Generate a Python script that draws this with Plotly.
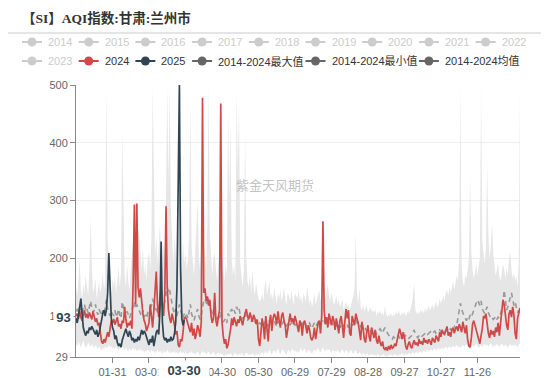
import plotly.graph_objects as go
import pandas as pd

# ---------------- data ----------------
DAYS = [d.strftime("%m-%d") for d in pd.date_range("2024-01-01", "2024-12-31")]

TITLE = "【SI】AQI指数:甘肃:兰州市"
WATERMARK = "紫金天风期货"
LEGEND_ROW1 = ["2014", "2015", "2016", "2017", "2018", "2019", "2020", "2021", "2022"]
LEGEND_ROW2 = ["2023", "2024", "2025", "2014-2024最大值", "2014-2024最小值", "2014-2024均值"]

Y_TICKS = [29, 100, 200, 300, 400, 500]
X_TICK_DAYS = ["01-31", "03-01", "03-31", "04-30", "05-30", "06-29", "07-29", "08-28", "09-27", "10-27", "11-26"]
POINTER_X = "03-30"
POINTER_Y = 93

aqi_2024 = [
    100, 104, 95, 108, 98, 92, 102, 110, 97, 104, 96, 106, 100, 94, 108, 98, 90, 96, 84, 88, 70, 56, 52, 60, 54, 66, 72, 64, 82, 92, 88,
    95, 85, 90, 98, 82, 86, 78, 92, 88, 116, 94, 80, 88, 84, 92, 78, 160, 293, 120, 295, 150, 132, 148, 118, 104, 92, 86, 74, 82,
    88, 120, 96, 80, 110, 140, 177, 120, 98, 130, 150, 118, 100, 140, 290, 150, 110, 96, 88, 104, 96, 84, 68, 74, 50, 46, 60, 56, 72, 96, 98,
    94, 86, 80, 72, 88, 66, 78, 60, 70, 84, 76, 64, 90, 478, 140, 148, 126, 134, 118, 128, 100, 88, 96, 140, 92, 82, 98, 110, 468, 90,
    66, 52, 60, 44, 50, 62, 76, 96, 84, 98, 90, 82, 94, 88, 100, 92, 84, 96, 104, 112, 100, 94, 106, 98, 90, 102, 96, 86, 94, 60, 48,
    70, 96, 84, 60, 100, 78, 56, 90, 102, 74, 96, 104, 98, 86, 108, 92, 80, 100, 106, 92, 84, 62, 78, 98, 104, 90, 96, 86, 100, 92,
    80, 72, 92, 86, 66, 88, 92, 78, 70, 84, 76, 62, 58, 64, 80, 60, 76, 88, 92, 70, 100, 264, 110, 86, 98, 80, 104, 96, 84, 100, 92,
    76, 96, 84, 70, 92, 100, 82, 62, 90, 112, 96, 110, 70, 66, 100, 92, 84, 104, 96, 88, 74, 58, 90, 80, 60, 54, 72, 84, 64, 56, 80,
    70, 62, 76, 58, 52, 66, 54, 48, 56, 44, 42, 46, 40, 48, 42, 50, 44, 46, 52, 48, 58, 66, 78, 70, 60, 72, 64, 48, 42, 50,
    56, 48, 44, 52, 58, 50, 54, 48, 60, 52, 56, 50, 62, 54, 58, 52, 60, 56, 50, 62, 58, 54, 66, 60, 56, 72, 64, 76, 70, 68, 74,
    82, 66, 72, 64, 76, 80, 70, 78, 82, 74, 86, 80, 72, 90, 76, 70, 84, 58, 48, 46, 62, 86, 92, 84, 80, 70, 60, 52, 66, 78,
    100, 96, 104, 82, 70, 62, 76, 68, 74, 64, 80, 72, 88, 66, 92, 106, 128, 120, 96, 84, 76, 104, 110, 98, 116, 102, 70, 60, 96, 104, 114,
]

aqi_2025 = [
    96, 88, 100, 118, 130, 104, 80, 72, 66, 74,
    70, 80, 76, 82, 78, 74, 68, 76, 64, 70,
    82, 96, 104, 110, 100, 112, 140, 209, 150, 96,
    80, 74, 60, 66, 54, 48, 52, 46, 58, 66,
    72, 78, 70, 64, 74, 68, 58, 62, 54, 60,
    56, 64, 58, 70, 76, 68, 74, 70, 62, 56,
    50, 60, 54, 66, 48, 60, 72, 76, 68, 110,
    229, 90, 64, 58, 62, 54, 60, 56, 64, 58,
    60, 70, 90, 150, 320, 500, 180, 96, 84, 93,
]

aqi_max = [
    150, 135, 160, 200, 145, 130, 155, 140, 170, 150, 135, 180, 270, 190, 140, 150, 165, 130, 145, 160, 140, 150, 175, 145, 160, 500, 230, 180, 150, 140, 165,
    150, 170, 140, 160, 185, 150, 175, 420, 260, 170, 150, 190, 160, 145, 180, 200, 230, 300, 210, 310, 250, 240, 200, 180, 220, 170, 190, 160, 200,
    210, 180, 230, 500, 380, 200, 240, 190, 220, 260, 210, 180, 230, 200, 300, 500, 330, 500, 280, 220, 190, 240, 210, 180, 260, 220, 200, 170, 230, 190, 210,
    180, 200, 240, 480, 220, 190, 170, 210, 250, 300, 200, 180, 220, 490, 230, 200, 180, 260, 500, 240, 190, 170, 200, 210, 180, 160, 190, 220, 475, 200,
    180, 160, 190, 170, 463, 300, 440, 200, 170, 190, 160, 492, 350, 470, 190, 170, 150, 180, 420, 200, 160, 150, 170, 140, 180, 150, 135, 157, 140, 130, 125,
    130, 140, 125, 150, 165, 135, 145, 160, 130, 140, 125, 150, 135, 120, 140, 130, 145, 125, 135, 150, 130, 120, 140, 135, 125, 145, 130, 120, 140, 135,
    130, 145, 125, 135, 120, 140, 130, 125, 150, 135, 120, 130, 115, 125, 140, 120, 130, 135, 145, 125, 140, 270, 150, 130, 140, 155, 135, 125, 140, 130, 120,
    125, 135, 120, 130, 115, 125, 130, 110, 120, 125, 115, 120, 110, 118, 125, 135, 150, 246, 140, 120, 150, 115, 110, 120, 108, 112, 118, 105, 110, 115, 108,
    110, 105, 112, 100, 108, 104, 110, 102, 106, 100, 118, 104, 98, 102, 100, 106, 98, 104, 100, 108, 102, 110, 104, 100, 106, 102, 108, 100, 104, 110,
    104, 112, 120, 135, 157, 110, 104, 108, 102, 112, 106, 110, 104, 115, 108, 112, 118, 110, 115, 120, 112, 118, 125, 115, 120, 130, 122, 128, 135, 125, 140,
    145, 135, 150, 140, 149, 160, 145, 155, 170, 160, 200, 500, 190, 160, 150, 170, 165, 180, 200, 341, 210, 180, 165, 175, 190, 170, 185, 200, 500, 230,
    210, 190, 220, 366, 240, 200, 220, 262, 210, 190, 170, 180, 189, 170, 160, 175, 190, 180, 165, 185, 170, 200, 210, 180, 165, 175, 160, 170, 150, 200, 500,
]

aqi_min = [
    52, 48, 55, 50, 46, 52, 58, 50, 45, 48, 54, 50, 46, 52, 48, 44, 50, 46, 42, 48, 44, 40, 46, 42, 48, 44, 46, 50, 45, 48, 44,
    46, 42, 48, 44, 40, 45, 42, 48, 44, 40, 46, 42, 38, 44, 40, 42, 46, 40, 44, 38, 42, 40, 44, 38, 42, 36, 40, 38, 42,
    40, 36, 42, 38, 40, 35, 38, 42, 36, 40, 38, 34, 40, 36, 38, 42, 36, 40, 34, 38, 36, 40, 35, 38, 33, 36, 40, 34, 38, 35, 39,
    36, 33, 38, 35, 40, 34, 37, 32, 36, 38, 34, 31, 36, 40, 35, 38, 33, 36, 39, 34, 32, 36, 38, 34, 31, 35, 37, 33, 36, 34,
    32, 30, 34, 31, 35, 33, 36, 32, 30, 34, 37, 33, 31, 35, 32, 36, 34, 30, 33, 37, 35, 32, 34, 31, 36, 33, 30, 34, 32, 35, 31,
    34, 38, 32, 36, 40, 34, 37, 42, 36, 33, 38, 41, 35, 39, 44, 37, 34, 40, 43, 38, 35, 33, 39, 42, 36, 40, 44, 38, 41, 37,
    40, 36, 42, 45, 38, 41, 44, 39, 36, 42, 40, 37, 35, 39, 43, 38, 41, 45, 40, 37, 42, 46, 41, 38, 44, 40, 43, 39, 36, 42, 38,
    40, 37, 42, 38, 35, 40, 43, 38, 36, 41, 39, 35, 38, 42, 37, 34, 39, 41, 36, 33, 38, 35, 32, 37, 34, 31, 36, 33, 30, 35, 32,
    34, 31, 33, 30, 35, 32, 29, 33, 31, 34, 30, 32, 29, 33, 31, 34, 30, 32, 35, 31, 33, 30, 34, 32, 36, 33, 31, 35, 32, 34,
    36, 33, 35, 38, 34, 36, 39, 35, 37, 40, 36, 38, 41, 37, 39, 42, 38, 40, 43, 39, 41, 44, 40, 42, 45, 41, 43, 46, 42, 44, 47,
    43, 45, 48, 44, 46, 49, 45, 47, 50, 46, 48, 44, 47, 50, 46, 48, 51, 47, 45, 43, 48, 50, 46, 49, 52, 48, 45, 47, 50, 46,
    49, 52, 48, 51, 47, 50, 53, 49, 46, 50, 48, 52, 49, 46, 50, 53, 49, 47, 51, 48, 45, 49, 52, 48, 50, 47, 51, 48, 46, 50, 52,
]

aqi_mean = [
    108, 112, 104, 118, 110, 102, 115, 120, 108, 112, 105, 118, 126, 114, 106, 110, 120, 108, 102, 112, 106, 100, 110, 104, 115, 128, 112, 106, 100, 108, 104,
    100, 110, 98, 104, 112, 100, 96, 125, 110, 104, 98, 108, 102, 96, 104, 110, 118, 125, 112, 120, 114, 108, 104, 100, 110, 98, 102, 96, 106,
    108, 112, 118, 130, 122, 110, 116, 106, 112, 120, 115, 125, 118, 124, 138, 150, 140, 145, 132, 118, 110, 104, 112, 100, 108, 120, 110, 102, 96, 104, 98,
    102, 96, 108, 120, 104, 98, 92, 100, 106, 112, 100, 94, 102, 118, 126, 130, 124, 118, 132, 122, 110, 104, 98, 106, 100, 94, 102, 96, 108, 94,
    90, 92, 96, 88, 104, 100, 108, 112, 106, 110, 104, 116, 110, 114, 102, 98, 94, 100, 106, 96, 92, 98, 94, 90, 96, 92, 88, 94, 90, 86, 88,
    86, 90, 84, 88, 92, 86, 82, 88, 90, 84, 88, 92, 86, 82, 88, 90, 85, 82, 88, 92, 86, 82, 86, 90, 84, 88, 92, 86, 84, 88,
    86, 82, 88, 92, 84, 86, 90, 84, 80, 86, 88, 82, 78, 84, 88, 82, 86, 90, 92, 86, 90, 96, 92, 86, 90, 94, 88, 84, 90, 86, 82,
    86, 82, 88, 84, 80, 84, 88, 82, 80, 86, 84, 80, 84, 88, 84, 86, 90, 94, 88, 84, 86, 82, 78, 80, 76, 78, 74, 76, 72, 74, 70,
    72, 70, 74, 68, 72, 76, 78, 74, 70, 76, 80, 74, 70, 66, 64, 62, 60, 64, 62, 60, 64, 66, 62, 64, 66, 62, 64, 66, 62, 60,
    62, 64, 66, 72, 76, 68, 64, 62, 66, 68, 64, 66, 68, 70, 72, 68, 70, 72, 74, 70, 72, 74, 70, 72, 74, 76, 72, 74, 76, 72, 76,
    78, 74, 76, 78, 74, 80, 82, 78, 84, 96, 110, 122, 112, 104, 100, 96, 92, 98, 94, 102, 98, 104, 110, 116, 122, 128, 124, 118, 126, 112,
    108, 104, 110, 116, 106, 100, 96, 98, 94, 96, 100, 94, 98, 96, 104, 112, 120, 145, 130, 110, 116, 122, 132, 140, 128, 118, 124, 112, 106, 110, 104,
]

# ---------------- styles ----------------
C_2024 = "#d04848"
C_2025 = "#2f4554"
C_BAND = "#e6e6e6"
C_MEAN = "#999999"
C_HIDDEN = "#cccccc"
C_LEGEND_DARK = "#666666"
FONT = "Liberation Sans, Noto Sans CJK SC, sans-serif"

L, T, W, H = 76, 85, 444, 272
FIG_W, FIG_H = 550, 378


def px(x):
    return (x - L) / W


def py(y):
    return (T + H - y) / H


fig = go.Figure()

fig.add_trace(go.Scatter(x=DAYS[:len(aqi_min)], y=aqi_min, mode="lines",
                         line=dict(width=0, color=C_BAND), hoverinfo="skip", showlegend=False))
fig.add_trace(go.Scatter(x=DAYS[:len(aqi_max)], y=aqi_max, mode="lines", fill="tonexty",
                         fillcolor=C_BAND, line=dict(width=0, color=C_BAND), showlegend=False))
fig.add_trace(go.Scatter(x=DAYS[:len(aqi_mean)], y=aqi_mean, mode="lines",
                         line=dict(width=1.6, color=C_MEAN, dash="5px,4px"), showlegend=False))
fig.add_trace(go.Scatter(x=DAYS[:len(aqi_2024)], y=aqi_2024, mode="lines",
                         line=dict(width=1.7, color=C_2024), showlegend=False))
fig.add_trace(go.Scatter(x=DAYS[:len(aqi_2025)], y=aqi_2025, mode="lines",
                         line=dict(width=1.7, color=C_2025), showlegend=False))

shapes = []
annotations = []

# title + separator
annotations.append(dict(text="<b>" + TITLE + "</b>", xref="paper", yref="paper", x=px(20), y=py(18),
                        xanchor="left", yanchor="middle", showarrow=False,
                        font=dict(size=13.5, color="#333", family="Liberation Serif, Noto Sans CJK SC, serif")))
shapes.append(dict(type="line", xref="paper", yref="paper", x0=px(8), x1=px(541), y0=py(33), y1=py(33),
                   line=dict(color="#dddddd", width=1.5)))

# custom legend
col_w = 56.7
first_c = 32
legend_items = []
for k, name in enumerate(LEGEND_ROW1):
    legend_items.append((name, C_HIDDEN, C_HIDDEN, first_c + col_w * k, 42))
row2_cols = [0, 1, 2, 3, 5, 7]
row2_colors = [(C_HIDDEN, C_HIDDEN), (C_2024, "#333"), (C_2025, "#333"),
               (C_LEGEND_DARK, "#333"), (C_LEGEND_DARK, "#333"), (C_LEGEND_DARK, "#333")]
for name, c, (ic, tc) in zip(LEGEND_ROW2, row2_cols, row2_colors):
    legend_items.append((name, ic, tc, first_c + col_w * c, 61))

for name, ic, tc, cx, cy in legend_items:
    shapes.append(dict(type="line", xref="paper", yref="paper", x0=px(cx - 10), x1=px(cx + 10),
                       y0=py(cy), y1=py(cy), line=dict(color=ic, width=2)))
    shapes.append(dict(type="circle", xref="paper", yref="paper", x0=px(cx - 4.5), x1=px(cx + 4.5),
                       y0=py(cy - 4.5), y1=py(cy + 4.5), fillcolor=ic, line=dict(color=ic, width=0)))
    annotations.append(dict(text=name, xref="paper", yref="paper", x=px(cx + 14), y=py(cy),
                            xanchor="left", yanchor="middle", showarrow=False,
                            font=dict(size=11, color=tc, family=FONT)))

# watermark
annotations.append(dict(text=WATERMARK, xref="paper", yref="paper", x=px(275), y=py(185),
                        xanchor="center", yanchor="middle", showarrow=False,
                        font=dict(size=13, color="rgba(160,160,160,0.65)", family=FONT)))

# axis pointer labels
annotations.append(dict(text="<b>" + POINTER_X + "</b>", xref="x", yref="paper", x=POINTER_X, y=0,
                        yanchor="top", yshift=-3, showarrow=False, bgcolor="white", width=50, height=18,
                        borderpad=0, font=dict(size=13, color=C_2025, family=FONT)))
annotations.append(dict(text="<b>" + str(POINTER_Y) + "</b>", xref="paper", yref="y", x=0, y=POINTER_Y,
                        xanchor="right", xshift=-2, yshift=3, showarrow=False, bgcolor="white",
                        width=19, height=18, borderpad=0, font=dict(size=13, color=C_2025, family=FONT)))

fig.update_layout(
    width=FIG_W, height=FIG_H,
    margin=dict(l=L, r=FIG_W - L - W, t=T, b=FIG_H - T - H, pad=0, autoexpand=False),
    paper_bgcolor="white", plot_bgcolor="white",
    showlegend=False,
    shapes=shapes, annotations=annotations,
    font=dict(family=FONT, size=11, color="#666"),
    xaxis=dict(type="category", categoryorder="array", categoryarray=DAYS, automargin=False,
               range=[0, len(DAYS) - 1], tickmode="array", tickvals=X_TICK_DAYS, ticktext=X_TICK_DAYS,
               showgrid=False, showline=True, linecolor="#888", linewidth=1,
               ticks="outside", ticklen=5, tickcolor="#888",
               tickfont=dict(size=11, color="#666"), zeroline=False),
    yaxis=dict(range=[min(Y_TICKS), max(Y_TICKS)], tickmode="array", tickvals=Y_TICKS, automargin=False,
               showgrid=True, gridcolor="#eeeeee", gridwidth=1,
               showline=True, linecolor="#888", linewidth=1,
               ticks="outside", ticklen=5, tickcolor="#888",
               tickfont=dict(size=11, color="#666"), zeroline=False),
)

fig.write_html("out.html", config={"displayModeBar": False},
               post_script="document.body.style.margin='0';document.body.style.padding='0';")
